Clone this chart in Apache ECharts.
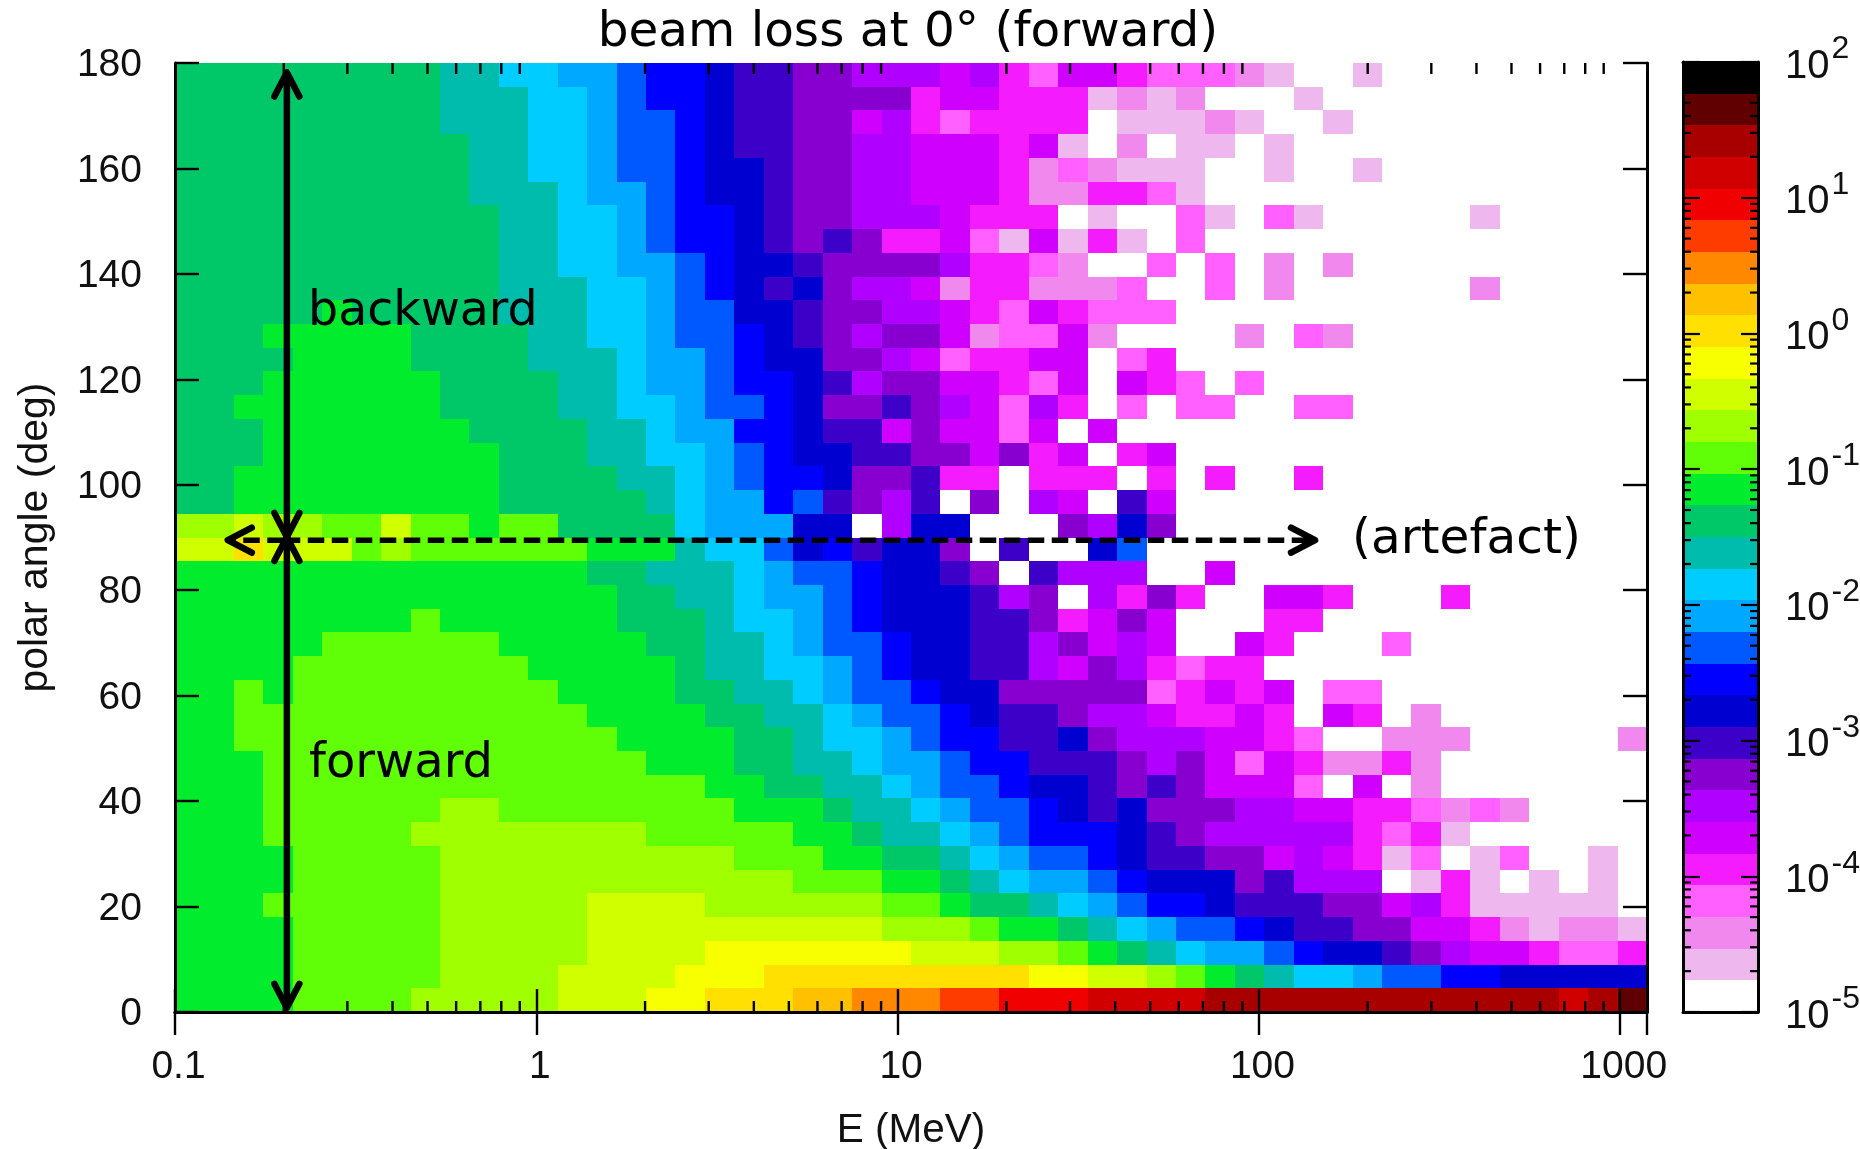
<!DOCTYPE html>
<html><head><meta charset="utf-8">
<script src="https://cdn.jsdelivr.net/npm/echarts@6/dist/echarts.min.js"></script>
<style>html,body{margin:0;padding:0;background:#fff}#c{width:1860px;height:1149px}</style>
</head><body><div id="c"></div>
<script>
// Colour bands of the palette, bottom (1e-5) to top (1e2)
const paletteColors = ['#ffffff','#eeb8ee','#f088ee','#ff60ff','#f41cff','#d000ff','#b000ff','#8800d0','#3c00c8','#0000d0',
 '#0000ff','#0058ff','#00a8ff','#00ccff','#00bcac','#00c868','#00ec2c','#60ff08','#a0ff00','#d0ff00',
 '#f8ff00','#ffe000','#ffc000','#ff8800','#ff3c00','#f00000','#d00000','#a80000','#600000','#000000'];
const xTickLabels = ['0.1','1','10','100','1000'];
const minorFactors = [2,3,4,5,6,7,8,9];
const xMinorDecades = [0.1,1,10,100];
const barMinorDecades = [1e-5,1e-4,1e-3,1e-2,1e-1,1,10];
// Band index of each cell, one list per row, top row (175.5-180 deg) first, 50 energy bins each
const levelRows = [
[15,15,15,15,15,15,15,15,15,14,14,13,13,12,12,11,10,10,9,8,8,7,7,6,6,6,5,6,4,3,5,5,4,3,3,3,2,1,0,0,1,0,0,0,0,0,0,0,0,0],
[15,15,15,15,15,15,15,15,15,14,14,14,13,13,12,11,10,10,9,8,8,7,7,7,7,4,5,5,4,4,4,1,2,1,2,0,0,0,1,0,0,0,0,0,0,0,0,0,0,0],
[15,15,15,15,15,15,15,15,15,14,14,14,13,13,12,11,11,10,9,8,8,7,7,5,6,4,3,4,4,4,4,0,1,1,1,2,1,0,0,1,0,0,0,0,0,0,0,0,0,0],
[15,15,15,15,15,15,15,15,15,15,14,14,13,13,12,11,11,10,9,8,8,7,7,6,6,5,5,5,4,5,1,0,2,0,1,1,0,1,0,0,0,0,0,0,0,0,0,0,0,0],
[15,15,15,15,15,15,15,15,15,15,14,14,13,13,12,11,11,10,9,9,8,7,7,6,6,5,5,5,4,2,3,2,1,1,1,0,0,1,0,0,1,0,0,0,0,0,0,0,0,0],
[15,15,15,15,15,15,15,15,15,15,14,14,14,13,12,12,11,10,9,9,8,7,7,6,6,5,5,5,4,2,2,4,4,3,1,0,0,0,0,0,0,0,0,0,0,0,0,0,0,0],
[15,15,15,15,15,15,15,15,15,15,15,14,14,13,13,12,11,10,10,9,8,7,7,6,6,6,5,4,4,4,0,1,0,0,3,1,0,3,1,0,0,0,0,0,1,0,0,0,0,0],
[15,15,15,15,15,15,15,15,15,15,15,14,14,13,13,12,11,10,10,9,8,7,8,7,4,4,5,3,1,5,1,4,1,0,3,0,0,0,0,0,0,0,0,0,0,0,0,0,0,0],
[15,15,15,15,15,15,15,15,15,15,15,14,14,13,13,12,12,11,10,9,9,8,7,7,7,7,6,4,4,3,2,0,0,3,0,3,0,2,0,2,0,0,0,0,0,0,0,0,0,0],
[15,15,15,15,15,15,15,15,15,15,15,14,14,14,13,13,12,11,10,9,8,9,7,6,6,5,2,4,4,2,2,2,3,0,0,3,0,2,0,0,0,0,0,0,2,0,0,0,0,0],
[15,15,15,15,15,16,15,15,15,15,15,14,14,14,13,13,12,11,11,9,9,8,7,7,6,6,5,4,3,5,4,3,3,3,0,0,0,0,0,0,0,0,0,0,0,0,0,0,0,0],
[15,15,15,16,16,16,16,16,15,15,15,15,14,14,13,13,12,11,11,10,9,8,7,6,7,7,5,2,3,3,5,2,0,0,0,0,2,0,3,2,0,0,0,0,0,0,0,0,0,0],
[15,15,15,15,16,16,16,16,15,15,15,15,14,14,14,13,12,12,11,10,9,9,7,7,6,5,3,4,4,5,5,0,3,4,0,0,0,0,0,0,0,0,0,0,0,0,0,0,0,0],
[15,15,15,16,16,16,16,16,16,15,15,15,15,14,14,13,12,12,11,10,10,9,8,6,7,7,5,5,4,3,5,0,5,4,3,0,3,0,0,0,0,0,0,0,0,0,0,0,0,0],
[15,15,16,16,16,16,16,16,16,15,15,15,15,14,14,13,13,12,11,11,10,9,7,7,8,7,6,5,3,6,4,0,3,0,3,3,0,0,3,3,0,0,0,0,0,0,0,0,0,0],
[15,15,15,16,16,16,16,16,16,16,15,15,15,15,14,14,13,12,12,10,10,9,8,8,5,7,5,5,3,5,0,5,0,0,0,0,0,0,0,0,0,0,0,0,0,0,0,0,0,0],
[15,15,15,16,16,16,16,16,16,16,16,15,15,15,14,14,13,13,12,11,10,9,9,8,8,7,7,5,7,4,5,0,4,5,0,0,0,0,0,0,0,0,0,0,0,0,0,0,0,0],
[15,15,16,16,16,16,16,16,16,16,16,15,15,15,15,14,14,13,12,11,10,10,9,7,7,8,4,4,0,4,4,4,0,4,0,4,0,0,4,0,0,0,0,0,0,0,0,0,0,0],
[15,15,16,16,16,16,16,16,16,16,16,15,15,15,15,15,14,13,12,12,10,11,8,7,6,8,0,7,0,6,5,0,8,5,0,0,0,0,0,0,0,0,0,0,0,0,0,0,0,0],
[18,18,19,18,18,17,17,19,17,17,16,17,17,15,15,15,15,13,12,12,12,9,9,0,6,9,9,0,0,0,7,6,9,7,0,0,0,0,0,0,0,0,0,0,0,0,0,0,0,0],
[19,19,21,19,19,19,17,18,17,17,17,17,17,17,16,16,16,14,13,13,11,9,10,8,9,9,7,0,8,0,0,9,11,0,0,0,0,0,0,0,0,0,0,0,0,0,0,0,0,0],
[16,16,16,16,16,16,16,16,16,16,16,16,16,16,15,15,14,14,14,13,12,11,11,10,9,9,8,7,0,8,6,6,6,0,0,5,0,0,0,0,0,0,0,0,0,0,0,0,0,0],
[16,16,16,16,16,16,16,16,16,16,16,16,16,16,16,15,15,14,14,13,12,12,11,10,9,9,9,8,6,7,0,6,4,7,4,0,0,5,5,4,0,0,0,4,0,0,0,0,0,0],
[16,16,16,16,16,16,16,16,17,16,16,16,16,16,16,15,15,15,14,13,13,12,11,10,9,9,9,8,8,7,4,5,7,5,0,0,0,4,4,0,0,0,0,0,0,0,0,0,0,0],
[16,16,16,16,16,17,17,17,17,17,17,16,16,16,16,16,15,15,14,14,13,12,11,11,10,9,9,8,8,6,7,5,6,5,0,0,5,4,0,0,0,3,0,0,0,0,0,0,0,0],
[16,16,16,16,17,17,17,17,17,17,17,17,16,16,16,16,16,15,14,14,13,13,12,11,10,9,9,8,8,6,5,7,6,4,3,4,4,0,0,0,0,0,0,0,0,0,0,0,0,0],
[16,16,17,16,17,17,17,17,17,17,17,17,17,16,16,16,16,15,15,14,14,13,12,11,11,10,9,9,7,7,7,7,7,3,4,5,4,5,0,3,3,0,0,0,0,0,0,0,0,0],
[16,16,17,17,17,17,17,17,17,17,17,17,17,17,16,16,16,16,15,15,14,14,13,12,11,11,10,9,8,8,7,6,6,5,4,4,5,4,0,5,4,0,2,0,0,0,0,0,0,0],
[16,16,17,17,17,17,17,17,17,17,17,17,17,17,17,16,16,16,16,15,15,14,13,13,12,11,10,10,8,8,9,7,6,6,6,5,5,4,3,0,0,2,2,2,0,0,0,0,0,2],
[16,16,16,17,17,17,17,17,17,17,17,17,17,17,17,17,16,16,16,15,15,14,14,13,12,12,11,10,10,8,8,8,7,6,7,5,3,5,4,2,2,4,2,0,0,0,0,0,0,0],
[16,16,16,17,17,17,17,17,17,17,17,17,17,17,17,17,17,17,16,16,15,15,14,14,13,12,11,11,10,9,9,8,7,8,7,5,5,5,3,0,5,0,2,0,0,0,0,0,0,0],
[16,16,16,17,17,17,17,17,17,18,18,17,17,17,17,17,17,17,17,16,16,16,15,14,14,13,12,11,11,10,9,8,9,7,7,7,6,6,5,5,4,4,3,2,3,2,0,0,0,0],
[16,16,16,17,17,17,17,17,18,18,18,18,18,18,18,18,17,17,17,17,17,16,16,15,14,14,13,12,11,10,10,10,9,8,7,6,6,6,6,6,4,3,4,1,0,0,0,0,0,0],
[16,16,16,16,17,17,17,17,17,18,18,18,18,18,18,18,18,18,18,17,17,17,16,16,15,15,14,13,12,11,11,10,9,8,8,7,7,5,6,5,4,1,3,0,1,3,0,0,1,0],
[16,16,16,16,17,17,17,17,17,18,18,18,18,18,18,18,18,18,18,18,18,17,17,17,16,16,15,14,13,12,12,11,10,9,9,9,7,8,6,6,6,0,1,4,1,0,1,0,1,0],
[16,16,16,17,17,17,17,17,17,18,18,18,18,18,19,19,19,19,18,18,18,18,18,18,17,17,16,15,15,14,13,12,11,10,10,9,8,8,8,7,7,5,6,4,1,1,1,1,1,0],
[16,16,16,16,17,17,17,17,17,18,18,18,18,18,19,19,19,19,19,19,19,19,19,19,18,18,18,17,16,16,15,14,13,12,11,11,10,9,8,8,7,7,5,5,4,2,1,2,2,1],
[16,16,16,16,17,17,17,17,17,18,18,18,18,18,19,19,19,19,20,20,20,20,20,20,20,19,19,19,18,18,17,16,15,14,13,12,12,11,10,9,9,8,7,6,5,5,4,3,3,4],
[16,16,16,16,17,17,17,17,17,18,18,18,18,19,19,19,19,20,20,20,21,21,21,21,21,21,21,21,21,20,20,19,19,18,17,16,15,14,13,13,12,11,11,10,10,9,9,9,9,9],
[16,16,16,16,17,17,17,17,18,18,18,18,18,19,19,19,20,20,21,21,21,22,22,23,23,23,24,24,25,25,25,26,26,26,26,27,27,27,27,27,27,27,27,27,27,27,27,26,27,28]
];
// Annotation arrows: [E from, deg from, E to, deg to, dashed]
const arrowSegments = [[0.204,90.1,0.204,178.2,0],[0.204,90.1,0.204,0.8,0],[0.2,89.5,0.14,89.5,1],[0.2,89.5,143,89.5,1]];

const xMin = 0.1, xMax = 1186, deg = 4.5;
const nCols = levelRows[0].length, nRows = levelRows.length;
const decadesPerBin = Math.log10(xMax/xMin)/nCols;
const xEdge = i => xMin*Math.pow(10,i*decadesPerBin);
const bandEdge = i => Math.pow(10,-5+i*7/30);

const cellData = [];
levelRows.forEach((row,t)=>row.forEach((lvl,c)=>{
  const yHi = 180-t*deg;
  cellData.push([xEdge(c),xEdge(c+1),yHi-deg,yHi,lvl]);
}));
const xMinorData = [];
xMinorDecades.forEach(d=>minorFactors.forEach(f=>xMinorData.push(d*f)));
const barMinorData = [];
barMinorDecades.forEach(d=>minorFactors.forEach(f=>barMinorData.push(d*f)));
const barData = paletteColors.map((_,i)=>[bandEdge(i),bandEdge(i+1),i]);

const labelFont = 'Liberation Sans';
const textFont = 'DejaVu Sans';
const lineW = 3, ink = '#000';
const tickLabel = {fontFamily:labelFont,fontSize:39,color:'#111'};

function arrowHead(x,y,ux,uy,style){
  const L=24,W=12.5;
  const px=-uy,py=ux;
  return {type:'polyline',shape:{points:[[x-ux*L+px*W,y-uy*L+py*W],[x,y],[x-ux*L-px*W,y-uy*L-py*W]]},style};
}
const chart = echarts.init(document.getElementById('c'),null,{renderer:'canvas'});
chart.setOption({
  animation:false,
  backgroundColor:'#fff',
  title:{text:'beam loss at 0° (forward)',left:903,top:4,textAlign:'center',textStyle:{fontFamily:textFont,fontSize:48.5,fontWeight:'normal',color:'#000'}},
  grid:[{left:175,width:1472,top:63,height:949,outerBoundsMode:'none'},{left:1683,width:75,top:62,height:950,outerBoundsMode:'none'}],
  xAxis:[
    {type:'log',logBase:10,gridIndex:0,min:xMin,max:xMax,position:'bottom',z:10,
     name:'E (MeV)',nameLocation:'middle',nameGap:98,nameTextStyle:{fontFamily:labelFont,fontSize:40.5,color:'#111'},
     axisLine:{show:true,lineStyle:{color:ink,width:lineW}},
     axisTick:{show:true,inside:true,length:23,lineStyle:{color:ink,width:2.4}},
     splitLine:{show:false},minorTick:{show:false},
     axisLabel:{...tickLabel,margin:36,padding:[0,0,0,7],showMaxLabel:false,formatter:v=>{const e=Math.round(Math.log10(v))+1;return xTickLabels[e]||'';}}},
    {type:'log',logBase:10,gridIndex:0,min:xMin,max:xMax,position:'top',z:10,
     axisLine:{show:true,lineStyle:{color:ink,width:lineW}},
     axisTick:{show:true,inside:true,length:23,lineStyle:{color:ink,width:2.4}},
     splitLine:{show:false},axisLabel:{show:false}},
    {type:'value',gridIndex:1,min:0,max:1,position:'bottom',z:10,axisLine:{show:true,onZero:false,lineStyle:{color:ink,width:lineW}},axisTick:{show:false},axisLabel:{show:false},splitLine:{show:false}},
    {type:'value',gridIndex:1,min:0,max:1,position:'top',z:10,axisLine:{show:true,onZero:false,lineStyle:{color:ink,width:lineW}},axisTick:{show:false},axisLabel:{show:false},splitLine:{show:false}}
  ],
  yAxis:[
    {type:'value',gridIndex:0,min:0,max:180,interval:20,position:'left',z:10,
     name:'polar angle (deg)',nameLocation:'middle',nameGap:119,nameTextStyle:{fontFamily:labelFont,fontSize:41,color:'#111'},
     axisLine:{show:true,onZero:false,lineStyle:{color:ink,width:lineW}},
     axisTick:{show:true,inside:true,length:24,lineStyle:{color:ink,width:2.4}},
     splitLine:{show:false},axisLabel:{...tickLabel,margin:33,verticalAlign:'top',lineHeight:5}},
    {type:'value',gridIndex:0,min:0,max:180,interval:20,position:'right',z:10,
     axisLine:{show:true,onZero:false,lineStyle:{color:ink,width:lineW}},
     axisTick:{show:true,inside:true,length:24,lineStyle:{color:ink,width:2.4}},
     splitLine:{show:false},axisLabel:{show:false}},
    {type:'log',logBase:10,gridIndex:1,min:1e-5,max:100,position:'left',z:10,
     axisLine:{show:true,onZero:false,lineStyle:{color:ink,width:lineW}},
     axisTick:{show:true,inside:true,length:17,lineStyle:{color:ink,width:2.2}},
     splitLine:{show:false},axisLabel:{show:false}},
    {type:'log',logBase:10,gridIndex:1,min:1e-5,max:100,position:'right',z:10,
     axisLine:{show:true,onZero:false,lineStyle:{color:ink,width:lineW}},
     axisTick:{show:true,inside:true,length:17,lineStyle:{color:ink,width:2.2}},
     splitLine:{show:false},
     axisLabel:{show:true,margin:27,align:'left',padding:[0,0,4,0],
       formatter:v=>'{b|10}{s|'+Math.round(Math.log10(v))+'}',
       rich:{b:{fontFamily:labelFont,fontSize:40,color:'#111',verticalAlign:'bottom',lineHeight:53,padding:[0,2,0,0]},
             s:{fontFamily:labelFont,fontSize:32,color:'#111',verticalAlign:'top',lineHeight:33}}}}
  ],
  series:[
    {type:'custom',name:'cells',xAxisIndex:0,yAxisIndex:0,coordinateSystem:'cartesian2d',data:cellData,encode:{x:[0,1],y:[2,3]},silent:true,z:2,clip:false,
     renderItem:(p,api)=>{
       const a=api.coord([api.value(0),api.value(2)]),b=api.coord([api.value(1),api.value(3)]);
       const x0=Math.round(a[0]),x1=Math.round(b[0]),y0=Math.round(b[1]),y1=Math.round(a[1]);
       return {type:'rect',shape:{x:x0,y:y0,width:x1-x0,height:y1-y0},style:{fill:paletteColors[api.value(4)]}};
     }},
    {type:'custom',name:'xMinor',xAxisIndex:0,yAxisIndex:0,data:xMinorData.map(v=>[v,0]),silent:true,z:5,clip:false,
     renderItem:(p,api)=>{
       const b=api.coord([api.value(0),0]),t=api.coord([api.value(0),180]);
       const st={stroke:ink,lineWidth:2.4};
       return {type:'group',children:[
         {type:'line',shape:{x1:b[0],y1:b[1],x2:b[0],y2:b[1]-11},style:st},
         {type:'line',shape:{x1:t[0],y1:t[1],x2:t[0],y2:t[1]+11},style:st}]};
     }},
    {type:'custom',name:'colourbar',xAxisIndex:2,yAxisIndex:2,data:barData,encode:{y:[0,1]},silent:true,z:2,clip:false,
     renderItem:(p,api)=>{
       const a=api.coord([0,api.value(0)]),b=api.coord([1,api.value(1)]);
       return {type:'rect',shape:{x:a[0],y:Math.round(b[1]),width:b[0]-a[0],height:Math.round(a[1])-Math.round(b[1])},style:{fill:paletteColors[api.value(2)]}};
     }},
    {type:'custom',name:'barMinor',xAxisIndex:2,yAxisIndex:2,data:barMinorData.map(v=>[0,v]),silent:true,z:5,clip:false,
     renderItem:(p,api)=>{
       const l=api.coord([0,api.value(1)]),r=api.coord([1,api.value(1)]);
       const st={stroke:ink,lineWidth:2.2};
       return {type:'group',children:[
         {type:'line',shape:{x1:l[0],y1:l[1],x2:l[0]+8,y2:l[1]},style:st},
         {type:'line',shape:{x1:r[0],y1:r[1],x2:r[0]-8,y2:r[1]},style:st}]};
     }},
    {type:'custom',name:'arrows',xAxisIndex:0,yAxisIndex:0,data:arrowSegments,silent:true,z:8,clip:false,
     renderItem:(p,api)=>{
       const a=api.coord([api.value(0),api.value(1)]),b=api.coord([api.value(2),api.value(3)]);
       const dashed=api.value(4)===1;
       const d=Math.hypot(b[0]-a[0],b[1]-a[1]),ux=(b[0]-a[0])/d,uy=(b[1]-a[1])/d;
       const st={stroke:'#000',lineWidth:dashed?5.5:6.5,fill:null,lineCap:'butt'};
       const headStyle={stroke:'#000',lineWidth:6.5,fill:null,lineCap:'round',lineJoin:'round'};
       const ch=[{type:'line',shape:{x1:a[0],y1:a[1],x2:b[0]-ux*3,y2:b[1]-uy*3},style:dashed?{...st,lineDash:[16.5,7.5]}:st},
                 arrowHead(b[0],b[1],ux,uy,headStyle)];
       if(!dashed) ch.push(arrowHead(a[0],a[1],-ux,-uy,headStyle));
       return {type:'group',children:ch};
     }}
  ],
  graphic:[
    {type:'text',left:308,top:289,z:20,style:{text:'backward',fontFamily:textFont,fontSize:47.5,fill:'#000'}},
    {type:'text',left:309,top:741,z:20,style:{text:'forward',fontFamily:textFont,fontSize:48,fill:'#000'}},
    {type:'text',left:1352,top:516,z:20,style:{text:'(artefact)',fontFamily:textFont,fontSize:48.5,fill:'#000'}}
  ]
});
</script></body></html>
